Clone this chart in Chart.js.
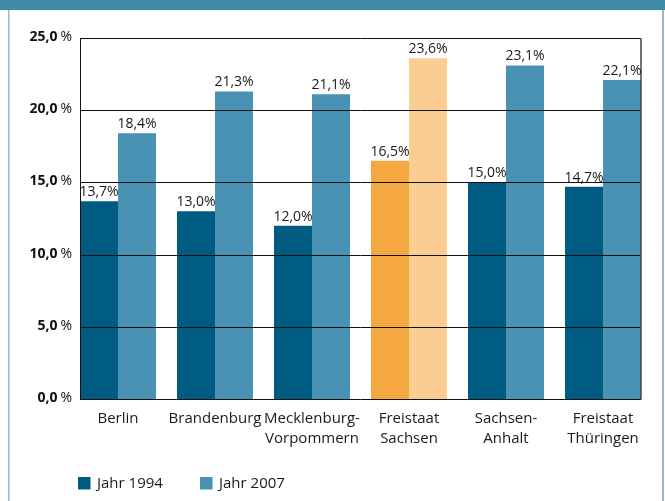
<!DOCTYPE html>
<html><head><meta charset="utf-8">
<script src="https://cdn.jsdelivr.net/npm/chart.js@4"></script>
<style>html,body{margin:0;padding:0;background:#fff}#wrap{width:665px;height:501px;position:relative}canvas{display:block}</style>
</head><body><div id="wrap"><canvas id="c" width="665" height="501"></canvas></div>
<script>
const categories = [["Berlin"],["Brandenburg"],["Mecklenburg-","Vorpommern"],["Freistaat","Sachsen"],["Sachsen-","Anhalt"],["Freistaat","Thüringen"]];
const series1994 = [13.7, 13.0, 12.0, 16.5, 15.0, 14.7];
const series2007 = [18.4, 21.3, 21.1, 23.6, 23.1, 22.1];
const seriesNames = ["Jahr 1994", "Jahr 2007"];
const yTicks = [0, 5, 10, 15, 20, 25];
const highlightIndex = 3;

const C_DARK = '#005B82', C_LIGHT = '#4A92B4', C_ORANGE = '#F5A83F', C_LORANGE = '#FACD92';
const FONT = '"Open Sans", "DejaVu Sans", sans-serif';
Chart.defaults.font.family = FONT;
Chart.defaults.color = '#1a1a1a';

const fmt = v => v.toFixed(1).replace('.', ',');
const PLOT_L = 80, PLOT_R = 641;

const overlay = {
  id: 'overlay',
  beforeDraw(chart) {
    const ctx = chart.ctx;
    ctx.save();
    ctx.fillStyle = '#3F8AA9';
    ctx.fillRect(0, 0, 665, 10);
    ctx.fillStyle = '#8CBFD2';
    ctx.fillRect(8, 10, 1.5, 491);
    ctx.fillRect(662, 10, 2, 491);
    ctx.restore();
  },
  afterDatasetsDraw(chart) {
    const ctx = chart.ctx;
    const y = chart.scales.y;
    ctx.save();
    ctx.strokeStyle = '#111';
    ctx.lineWidth = 1;
    yTicks.forEach(v => {
      const py = Math.round(y.getPixelForValue(v)) + 0.5;
      ctx.beginPath(); ctx.moveTo(PLOT_L, py); ctx.lineTo(PLOT_R, py); ctx.stroke();
    });
    const top = Math.round(y.getPixelForValue(25)) + 0.5, bot = Math.round(y.getPixelForValue(0)) + 0.5;
    ctx.beginPath(); ctx.moveTo(PLOT_L + 0.5, top); ctx.lineTo(PLOT_L + 0.5, bot); ctx.stroke();
    ctx.strokeStyle = '#444';
    ctx.lineWidth = 1.5;
    ctx.beginPath(); ctx.moveTo(PLOT_R, top); ctx.lineTo(PLOT_R, bot); ctx.stroke();
    // y tick labels: bold number, regular percent sign
    ctx.textBaseline = 'middle';
    ctx.textAlign = 'right';
    ctx.fillStyle = '#111';
    yTicks.forEach(v => {
      const py = y.getPixelForValue(v) - 1;
      ctx.font = '14px ' + FONT;
      const pw = ctx.measureText('%').width;
      ctx.fillText('%', 72, py);
      ctx.font = 'bold 14px ' + FONT;
      ctx.fillText(fmt(v), 72 - pw - 3, py);
    });
    // value labels
    ctx.fillStyle = '#1a1a1a';
    ctx.font = '14px ' + FONT;
    ctx.textAlign = 'center';
    ctx.textBaseline = 'bottom';
    chart.data.datasets.forEach((ds, di) => {
      chart.getDatasetMeta(di).data.forEach((bar, i) => {
        ctx.fillText(fmt(ds.data[i]) + '%', bar.x, bar.y - 2);
      });
    });
    // legend
    const legX = [78, 200];
    ctx.font = '15px ' + FONT;
    chart.data.datasets.forEach((ds, di) => {
      ctx.fillStyle = ds.legendColor;
      ctx.fillRect(legX[di], 477, 12.5, 12.5);
      ctx.fillStyle = '#1a1a1a';
      ctx.textAlign = 'left';
      ctx.textBaseline = 'middle';
      ctx.fillText(ds.label, legX[di] + 19, 483.5);
    });
    ctx.restore();
  }
};

new Chart(document.getElementById('c'), {
  type: 'bar',
  data: {
    labels: categories,
    datasets: [
      { label: seriesNames[0], data: series1994, legendColor: C_DARK,
        backgroundColor: series1994.map((_, i) => i === highlightIndex ? C_ORANGE : C_DARK) },
      { label: seriesNames[1], data: series2007, legendColor: C_LIGHT,
        backgroundColor: series2007.map((_, i) => i === highlightIndex ? C_LORANGE : C_LIGHT) }
    ]
  },
  options: {
    responsive: false,
    animation: false,
    devicePixelRatio: 1,
    categoryPercentage: 76 / 97,
    barPercentage: 1,
    layout: { padding: { left: 0, right: 13.5, top: 38, bottom: 0 } },
    plugins: { legend: { display: false }, tooltip: { enabled: false } },
    scales: {
      x: {
        grid: { display: false },
        border: { display: false },
        ticks: { font: { size: 15, lineHeight: '20px' }, color: '#1a1a1a', padding: 2, maxRotation: 0, autoSkip: false },
        afterFit(s) { s.height = 102; }
      },
      y: {
        min: 0, max: 25,
        afterBuildTicks(s) { s.ticks = yTicks.map(v => ({ value: v })); },
        grid: { display: false, drawTicks: false },
        border: { display: false },
        ticks: { display: false },
        afterFit(s) { s.width = 69.5; }
      }
    }
  },
  plugins: [overlay]
});
</script></body></html>
